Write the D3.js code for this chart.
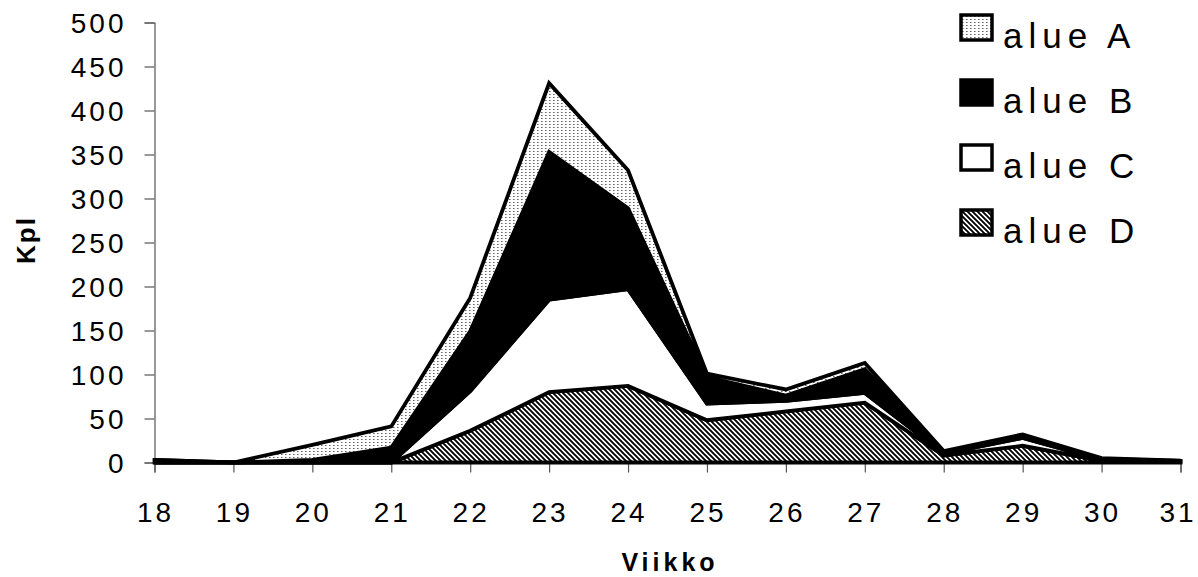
<!DOCTYPE html>
<html>
<head>
<meta charset="utf-8">
<script src="https://cdn.jsdelivr.net/npm/d3@7"></script>
<style>
  html, body { margin: 0; padding: 0; background: #fff; }
  svg { display: block; }
  text { font-family: "Liberation Sans", Arial, sans-serif; fill: #000; }
</style>
</head>
<body>
<svg id="chart" width="1198" height="577"></svg>
<script>
// Weekly counts per area (weeks 18–31)
const weeks = [18, 19, 20, 21, 22, 23, 24, 25, 26, 27, 28, 29, 30, 31];
const alueA = [0, 0, 17, 24, 38, 78, 43, 4, 7, 7, 1, 2, 1, 0];
const alueB = [3, 0, 3, 17, 68, 168, 92, 30, 6, 27, 2, 2, 1, 1];
const alueC = [0, 0, 0, 0, 45, 105, 110, 19, 12, 11, 2, 9, 1, 0];
const alueD = [0, 0, 0, 0, 36, 80, 87, 48, 58, 68, 8, 19, 2, 1];
const seriesNames = ["alue A", "alue B", "alue C", "alue D"];
const yTicks = [0, 50, 100, 150, 200, 250, 300, 350, 400, 450, 500];

const svg = d3.select("#chart");

// Fill patterns
const defs = svg.append("defs");
const dots = defs.append("pattern").attr("id", "dots")
  .attr("patternUnits", "userSpaceOnUse").attr("width", 4).attr("height", 3);
dots.append("rect").attr("width", 4).attr("height", 3).attr("fill", "#fff");
dots.append("rect").attr("x", 1).attr("y", 1).attr("width", 1.6).attr("height", 1).attr("fill", "#666");

const hatch = defs.append("pattern").attr("id", "hatch")
  .attr("patternUnits", "userSpaceOnUse").attr("width", 5).attr("height", 5);
hatch.append("rect").attr("width", 5).attr("height", 5).attr("fill", "#fff");
hatch.append("path").attr("d", "M-1,4 L1,6 M0,0 L5,5 M4,-1 L6,1")
  .attr("stroke", "#000").attr("stroke-width", 1.9);

const fills = {
  "alue A": "url(#dots)",
  "alue B": "#000",
  "alue C": "#fff",
  "alue D": "url(#hatch)"
};

// Scales
const x = d3.scaleLinear().domain([18, 31]).range([154.5, 1180.5]);
const y = d3.scaleLinear().domain([0, 500]).range([462.5, 22.5]);

// Stacked table: D at the bottom, A on top
const table = weeks.map((w, i) => ({
  week: w,
  "alue A": alueA[i], "alue B": alueB[i], "alue C": alueC[i], "alue D": alueD[i]
}));
const stackKeys = ["alue D", "alue C", "alue B", "alue A"];
const stacked = d3.stack().keys(stackKeys)(table);

const area = d3.area()
  .x(d => x(d.data.week))
  .y0(d => y(d[0]))
  .y1(d => y(d[1]));

// Axes
const yAxis = d3.axisLeft(y).tickValues(yTicks).tickSize(10).tickPadding(18);
const xAxis = d3.axisBottom(x).tickValues(weeks).tickSize(10).tickPadding(30);

const gy = svg.append("g").attr("transform", "translate(154.5,0)").call(yAxis);
const gx = svg.append("g").attr("transform", "translate(0,462.5)").call(xAxis);
[gy, gx].forEach(g => {
  g.select(".domain").attr("stroke", "#555").attr("stroke-width", 1.2);
  g.selectAll(".tick line").attr("stroke", "#555").attr("stroke-width", 1.2);
  g.selectAll(".tick text")
    .style("font-family", "'Liberation Sans', Arial, sans-serif")
    .attr("font-size", 28).attr("fill", "#000")
    .style("letter-spacing", "3px");
});
gy.selectAll(".tick text").attr("dy", "0.36em");
gx.selectAll(".tick text").attr("dy", "0.71em")
  .attr("dx", d => d === 31 ? "-3px" : "0.5px");

// Stacked areas with black outlines
svg.append("g").selectAll("path")
  .data(stacked)
  .join("path")
  .attr("d", area)
  .attr("fill", d => fills[d.key])
  .attr("stroke", "#000")
  .attr("stroke-width", 3.8)
  .attr("stroke-linejoin", "miter");

// Axis titles
svg.append("text")
  .attr("transform", "translate(35,240) rotate(-90)")
  .attr("text-anchor", "middle")
  .attr("font-size", 26).attr("font-weight", "bold")
  .style("letter-spacing", "2px")
  .text("Kpl");

svg.append("text")
  .attr("x", 670).attr("y", 571)
  .attr("text-anchor", "middle")
  .attr("font-size", 25).attr("font-weight", "bold")
  .style("letter-spacing", "4px")
  .text("Viikko");

// Legend
const legend = svg.append("g").attr("transform", "translate(961,15)");
const rows = legend.selectAll("g").data(seriesNames).join("g")
  .attr("transform", (d, i) => `translate(0,${i * 65})`);
rows.append("rect")
  .attr("x", 0).attr("y", 0).attr("width", 31).attr("height", 25)
  .attr("fill", d => fills[d]).attr("stroke", "#000").attr("stroke-width", 3.5);
rows.append("text")
  .attr("x", 42).attr("y", 33)
  .attr("font-size", 35)
  .style("letter-spacing", "6px")
  .text(d => d);
</script>
</body>
</html>
